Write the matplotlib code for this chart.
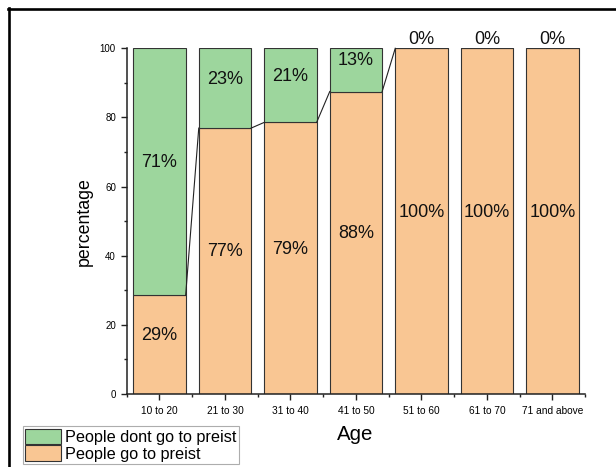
import math
import matplotlib
matplotlib.use("Agg")
import matplotlib.pyplot as plt
from matplotlib.lines import Line2D
from matplotlib.patches import Patch
from matplotlib.ticker import FixedLocator, NullFormatter

plt.rcParams['font.family'] = ['Liberation Sans', 'DejaVu Sans']

ages = ["10 to 20", "21 to 30", "31 to 40", "41 to 50", "51 to 60", "61 to 70", "71 and above"]
go_priest = [28.57, 76.92, 78.57, 87.5, 100.0, 100.0, 100.0]
dont_go_priest = [71.43, 23.08, 21.43, 12.5, 0.0, 0.0, 0.0]

series_names = ["People dont go to preist", "People go to preist"]
green = "#9dd69d"
orange = "#f9c693"
edge = "#333333"
bar_width = 0.8


def pct(v):
    return f"{math.floor(v + 0.5)}%"


fig = plt.figure(figsize=(6.16, 4.67), dpi=100)
ax = fig.add_axes([0.2057, 0.1563, 0.7443, 0.7403])

x = list(range(len(ages)))
ax.bar(x, go_priest, width=bar_width, color=orange, edgecolor=edge, linewidth=0.8)
ax.bar(x, dont_go_priest, width=bar_width, bottom=go_priest, color=green,
       edgecolor=edge, linewidth=0.8)

# connecting lines between the tops of the lower stacks
for i in range(len(x) - 1):
    if min(go_priest[i], go_priest[i + 1]) < 100:
        ax.plot([x[i] + bar_width / 2, x[i + 1] - bar_width / 2],
                [go_priest[i], go_priest[i + 1]], color="#222222", lw=0.8,
                clip_on=False, zorder=3)

# segment labels
for i in x:
    lo = go_priest[i]
    hi = dont_go_priest[i]
    ax.annotate(pct(lo), (i, lo / 2), xytext=(0, 3.3), textcoords="offset points",
                ha="center", va="baseline", fontsize=13, color="#111111",
                annotation_clip=False)
    ax.annotate(pct(hi), (i, lo + hi / 2), xytext=(0, 3.3), textcoords="offset points",
                ha="center", va="baseline", fontsize=13, color="#111111",
                annotation_clip=False)

ax.set_xlim(-0.5, len(ages) - 0.5)
ax.set_ylim(0, 100)
ax.set_xticks(x)
ax.set_xticklabels(ages, fontsize=7.3)
ax.xaxis.set_minor_locator(FixedLocator([i - 0.5 for i in range(len(ages) + 1)]))
ax.xaxis.set_minor_formatter(NullFormatter())
ax.set_yticks([0, 20, 40, 60, 80, 100])
ax.set_yticklabels(["0", "20", "40", "60", "80", "100"], fontsize=7)
ax.yaxis.set_minor_locator(FixedLocator([10, 30, 50, 70, 90]))

ax.tick_params(axis="both", which="major", length=4.3, width=1.0, color="#222222")
ax.tick_params(axis="both", which="minor", length=2.3, width=1.0, color="#222222")
ax.tick_params(axis="x", which="major", pad=4)
ax.tick_params(axis="y", which="major", pad=3.5)

for side in ("top", "right"):
    ax.spines[side].set_visible(False)
for side in ("left", "bottom"):
    ax.spines[side].set_linewidth(1.1)
    ax.spines[side].set_color("#222222")

fig.text(84.5 / 616, 1 - 221.5 / 467, "percentage", rotation=90, ha="center",
         va="center", fontsize=12.8)
fig.text(355 / 616, 1 - 434 / 467, "Age", ha="center", va="center", fontsize=14.7)

handles = [Patch(facecolor=green, edgecolor=edge, linewidth=0.8),
           Patch(facecolor=orange, edgecolor=edge, linewidth=0.8)]
leg = fig.legend(handles, series_names, loc="lower left",
                 bbox_to_anchor=(22.8 / 616, 3 / 467), bbox_transform=fig.transFigure,
                 fontsize=11.7, frameon=True, fancybox=False, handlelength=2.2,
                 handleheight=1.05, labelspacing=0.05, borderpad=0.15,
                 handletextpad=0.25, borderaxespad=0)
leg.get_frame().set_edgecolor("#999999")
leg.get_frame().set_linewidth(0.8)

# outer frame on the top and left edges
fig.add_artist(Line2D([7.5 / 616, 1.0], [1 - 8.5 / 467, 1 - 8.5 / 467],
                      color="black", lw=1.9, transform=fig.transFigure))
fig.add_artist(Line2D([8.5 / 616, 8.5 / 616], [0.0, 1 - 7.5 / 467],
                      color="black", lw=1.9, transform=fig.transFigure))

fig.savefig("out.png", dpi=100)
